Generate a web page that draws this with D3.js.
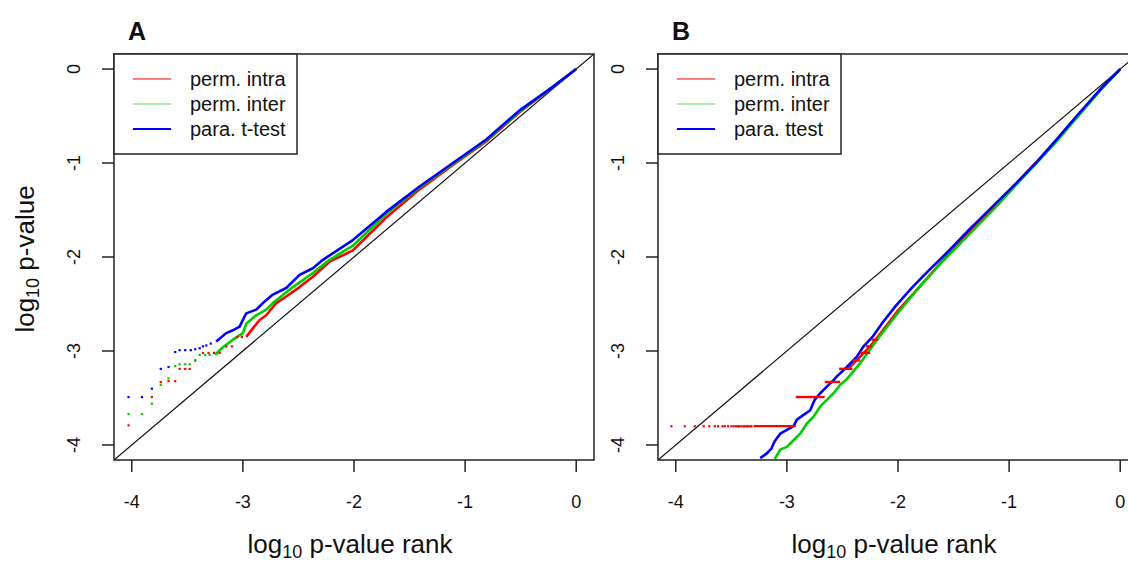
<!DOCTYPE html>
<html lang="en">
<head>
    <meta charset="UTF-8">
    <title>QQ plots</title>
    <script src="https://d3js.org/d3.v7.min.js"></script>
    <style>
        body { margin: 0; background: white; }
        text { font-family: Arial, 'Liberation Sans', sans-serif; fill: #111; }
    </style>
</head>
<body>
<script>

    const width = 1128;
    const height = 561;

    const domain = [-4.16, 0.16];
    const xTicks = [-4, -3, -2, -1, 0];
    const yTicks = [0, -1, -2, -3, -4];
    const colors = ["#ff0000", "#00cc00", "#0000ff"];
    const legendColors = ["#ff0000", "#55e055", "#0000ff"];

    const legendA = ["perm. intra", "perm. inter", "para. t-test"];
    const legendB = ["perm. intra", "perm. inter", "para. ttest"];

    // panel A: dense part of each curve (log10 rank, log10 p)
    const lineA_red = [[-2.97,-2.85],[-2.91,-2.76],[-2.85,-2.67],[-2.79,-2.62],[-2.70,-2.49],[-2.61,-2.42],[-2.49,-2.32],[-2.37,-2.21],[-2.22,-2.05],[-2.01,-1.93],[-1.71,-1.58],[-1.41,-1.28],[-1.11,-1.02],[-0.81,-0.77],[-0.51,-0.46],[-0.21,-0.19],[0,0]];
    const lineA_green = [[-3.25,-3.04],[-3.18,-2.96],[-3.09,-2.88],[-3.00,-2.81],[-2.97,-2.71],[-2.88,-2.62],[-2.79,-2.56],[-2.73,-2.49],[-2.55,-2.32],[-2.37,-2.17],[-2.22,-2.03],[-2.01,-1.88],[-1.71,-1.54],[-1.41,-1.26],[-1.11,-1.01],[-0.81,-0.76],[-0.51,-0.45],[-0.21,-0.19],[0,0]];
    const lineA_blue = [[-3.24,-2.90],[-3.15,-2.81],[-3.09,-2.78],[-3.03,-2.74],[-2.97,-2.60],[-2.88,-2.56],[-2.82,-2.49],[-2.73,-2.40],[-2.61,-2.33],[-2.49,-2.19],[-2.37,-2.12],[-2.28,-2.03],[-2.01,-1.82],[-1.71,-1.52],[-1.41,-1.25],[-1.11,-1.00],[-0.81,-0.75],[-0.51,-0.44],[-0.21,-0.19],[0,0]];

    // panel A: sparse tail points
    const dotsA_red = [[-4.03,-3.79],[-3.82,-3.49],[-3.74,-3.33],[-3.67,-3.32],[-3.61,-3.32],[-3.57,-3.19],[-3.52,-3.19],[-3.48,-3.19],[-3.43,-3.10],[-3.36,-3.02],[-3.31,-3.02],[-3.26,-3.02],[-3.21,-3.02],[-3.15,-2.95],[-3.10,-2.95],[-3.05,-2.85],[-3.01,-2.85]];
    const dotsA_green = [[-4.03,-3.67],[-3.91,-3.67],[-3.82,-3.56],[-3.74,-3.36],[-3.67,-3.29],[-3.61,-3.16],[-3.57,-3.14],[-3.52,-3.14],[-3.48,-3.14],[-3.43,-3.10],[-3.39,-3.04],[-3.34,-3.04],[-3.30,-3.04]];
    const dotsA_blue = [[-4.03,-3.49],[-3.91,-3.49],[-3.82,-3.40],[-3.74,-3.19],[-3.67,-3.17],[-3.61,-3.01],[-3.57,-2.99],[-3.52,-2.99],[-3.47,-2.99],[-3.43,-2.98],[-3.39,-2.97],[-3.36,-2.95],[-3.33,-2.94],[-3.29,-2.92]];

    // panel B: dense part of each curve
    const lineB_red = [[-2.45,-3.19],[-2.34,-3.06],[-2.25,-2.95],[-2.15,-2.80],[-2.00,-2.57],[-1.80,-2.31],[-1.60,-2.04],[-1.36,-1.74],[-1.12,-1.46],[-0.88,-1.15],[-0.58,-0.77],[-0.40,-0.52],[-0.16,-0.20],[0,0]];
    const lineB_green = [[-3.11,-4.15],[-3.06,-4.05],[-3.00,-4.02],[-2.94,-3.95],[-2.88,-3.88],[-2.82,-3.77],[-2.76,-3.70],[-2.70,-3.59],[-2.64,-3.52],[-2.58,-3.45],[-2.52,-3.36],[-2.46,-3.30],[-2.34,-3.13],[-2.23,-2.95],[-2.17,-2.85],[-1.99,-2.58],[-1.81,-2.32],[-1.60,-2.05],[-1.36,-1.76],[-1.12,-1.47],[-0.88,-1.16],[-0.58,-0.78],[-0.40,-0.53],[-0.16,-0.20],[0,0]];
    const lineB_blue = [[-3.24,-4.14],[-3.18,-4.09],[-3.14,-4.04],[-3.11,-3.96],[-3.06,-3.88],[-3.00,-3.84],[-2.94,-3.80],[-2.91,-3.73],[-2.85,-3.68],[-2.79,-3.63],[-2.75,-3.52],[-2.70,-3.45],[-2.64,-3.38],[-2.58,-3.31],[-2.55,-3.27],[-2.46,-3.17],[-2.37,-3.06],[-2.31,-2.95],[-2.23,-2.85],[-2.14,-2.70],[-2.02,-2.52],[-1.87,-2.32],[-1.72,-2.14],[-1.54,-1.93],[-1.36,-1.71],[-1.12,-1.43],[-0.94,-1.22],[-0.76,-1.00],[-0.58,-0.76],[-0.40,-0.51],[-0.16,-0.19],[0,0]];

    // panel B: tied permutation p-values (horizontal runs) and sparse tail dots
    const stepsB_red = [[-3.30,-2.92,-3.80],[-2.92,-2.66,-3.49],[-2.66,-2.52,-3.33],[-2.53,-2.41,-3.19],[-2.41,-2.34,-3.10],[-2.34,-2.25,-3.02],[-2.29,-2.23,-2.95],[-2.24,-2.18,-2.88]];
    const dotsB_red = [[-4.04,-3.80],[-3.92,-3.80],[-3.83,-3.80],[-3.75,-3.80],[-3.70,-3.80],[-3.65,-3.80],[-3.62,-3.80],[-3.58,-3.80],[-3.56,-3.80],[-3.53,-3.80],[-3.50,-3.80],[-3.48,-3.80],[-3.46,-3.80],[-3.44,-3.80],[-3.43,-3.80],[-3.41,-3.80],[-3.39,-3.80],[-3.38,-3.80],[-3.36,-3.80],[-3.35,-3.80],[-3.33,-3.80],[-3.32,-3.80]];

    const panels = [
        {label: "A", left: 114, legend: legendA,
         lines: [lineA_red, lineA_green, lineA_blue],
         dots: [dotsA_red, dotsA_green, dotsA_blue], steps: [], yTitle: true},
        {label: "B", left: 658, legend: legendB,
         lines: [lineB_red, lineB_green, lineB_blue],
         dots: [dotsB_red, [], []], steps: stepsB_red, yTitle: false}
    ];

    const plotW = 480, plotTop = 54, plotBottom = 460;

    const svg = d3.select("body").append("svg").attr("width", width).attr("height", height);

    panels.forEach((p, pi) => {
        const x = d3.scaleLinear().domain(domain).range([p.left, p.left + plotW]);
        const y = d3.scaleLinear().domain(domain).range([plotBottom, plotTop]);
        const g = svg.append("g");

        const clipId = "clip" + pi;
        g.append("clipPath").attr("id", clipId).append("rect")
            .attr("x", p.left).attr("y", plotTop).attr("width", plotW).attr("height", plotBottom - plotTop);
        const plot = g.append("g").attr("clip-path", `url(#${clipId})`);

        // reference line y = x
        plot.append("line")
            .attr("x1", x(domain[0])).attr("y1", y(domain[0]))
            .attr("x2", x(domain[1])).attr("y2", y(domain[1]))
            .attr("stroke", "#111").attr("stroke-width", 1.2);

        const line = d3.line().x(d => x(d[0])).y(d => y(d[1]));

        p.lines.forEach((pts, i) => {
            plot.append("path").attr("d", line(pts))
                .attr("fill", "none").attr("stroke", colors[i])
                .attr("stroke-width", 2.6).attr("stroke-linejoin", "round");
        });

        p.dots.forEach((pts, i) => {
            plot.selectAll(null).data(pts).enter().append("rect")
                .attr("x", d => x(d[0]) - 1).attr("y", d => y(d[1]) - 1)
                .attr("width", 2.2).attr("height", 2.2)
                .attr("fill", colors[i]);
        });

        plot.selectAll(null).data(p.steps).enter().append("line")
            .attr("x1", d => x(d[0])).attr("x2", d => x(d[1]))
            .attr("y1", d => y(d[2])).attr("y2", d => y(d[2]))
            .attr("stroke", colors[0]).attr("stroke-width", 2.4);

        // frame
        g.append("rect").attr("x", p.left).attr("y", plotTop)
            .attr("width", plotW).attr("height", plotBottom - plotTop)
            .attr("fill", "none").attr("stroke", "#222").attr("stroke-width", 1.5);

        // x axis
        g.selectAll(null).data(xTicks).enter().append("line")
            .attr("x1", d => x(d)).attr("x2", d => x(d))
            .attr("y1", plotBottom).attr("y2", plotBottom + 12)
            .attr("stroke", "#222").attr("stroke-width", 1.5);
        g.selectAll(null).data(xTicks).enter().append("text")
            .attr("x", d => x(d)).attr("y", 508)
            .attr("text-anchor", "middle").attr("font-size", 18)
            .text(d => d);

        const xt = g.append("text").attr("x", p.left + 236).attr("y", 553)
            .attr("text-anchor", "middle").attr("font-size", 26);
        xt.append("tspan").text("log");
        xt.append("tspan").attr("font-size", 18).attr("dy", 5).text("10");
        xt.append("tspan").attr("dy", -5).text(" p-value rank");

        // y axis
        g.selectAll(null).data(yTicks).enter().append("line")
            .attr("x1", p.left - 12).attr("x2", p.left)
            .attr("y1", d => y(d)).attr("y2", d => y(d))
            .attr("stroke", "#222").attr("stroke-width", 1.5);
        g.selectAll(null).data(yTicks).enter().append("text")
            .attr("transform", d => `translate(${p.left - 34},${y(d)}) rotate(-90)`)
            .attr("text-anchor", "middle").attr("font-size", 18)
            .text(d => d);

        if (p.yTitle) {
            const yt = g.append("text")
                .attr("transform", `translate(34,259) rotate(-90)`)
                .attr("text-anchor", "middle").attr("font-size", 26);
            yt.append("tspan").text("log");
            yt.append("tspan").attr("font-size", 18).attr("dy", 5).text("10");
            yt.append("tspan").attr("dy", -5).text(" p-value");
        }

        // panel label
        g.append("text").attr("x", p.left + 14).attr("y", 40)
            .attr("font-size", 25).attr("font-weight", "bold").attr("fill", "#000")
            .text(p.label);

        // legend
        g.append("rect").attr("x", p.left).attr("y", plotTop)
            .attr("width", 183).attr("height", 100)
            .attr("fill", "white").attr("stroke", "#222").attr("stroke-width", 1.5);
        p.legend.forEach((t, i) => {
            const ly = 79 + i * 25;
            g.append("line").attr("x1", p.left + 19).attr("x2", p.left + 57)
                .attr("y1", ly).attr("y2", ly)
                .attr("stroke", legendColors[i]).attr("stroke-width", i === 2 ? 2 : 1.2);
            g.append("text").attr("x", p.left + 76).attr("y", ly + 7)
                .attr("font-size", 20).text(t);
        });
    });
</script>
</body>
</html>
